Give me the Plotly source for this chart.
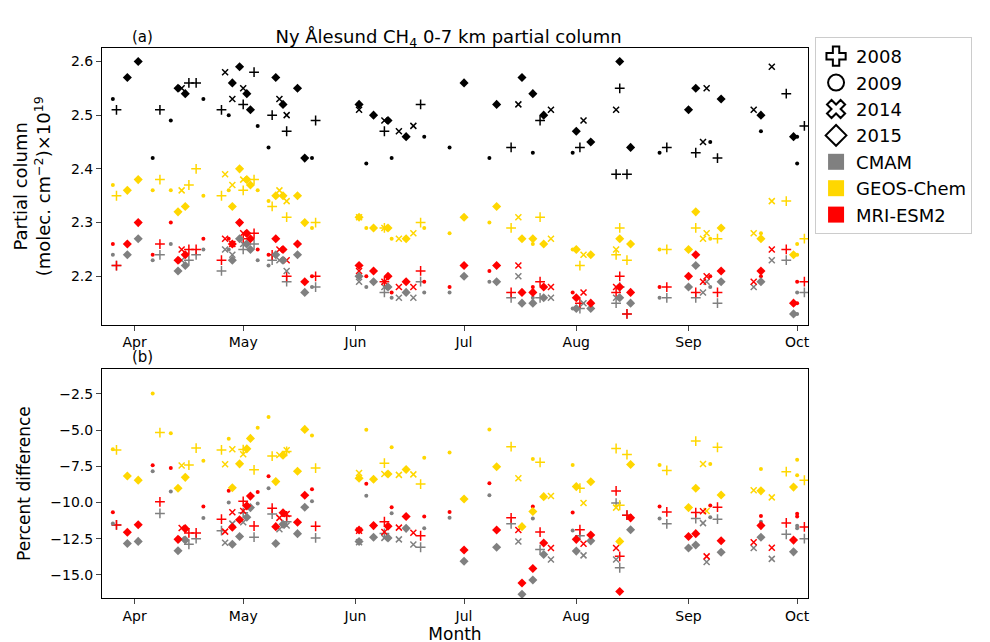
import plotly.graph_objects as go

# observation dates (year 2000 used only as a dummy year for month axis)
d2008 = ["2000-03-27", "2000-04-08", "2000-04-16", "2000-04-18", "2000-04-25", "2000-05-01", "2000-05-04",
         "2000-05-09", "2000-05-13", "2000-05-21", "2000-06-09", "2000-06-19", "2000-07-14", "2000-07-22",
         "2000-08-02", "2000-08-12", "2000-08-13", "2000-08-15", "2000-08-26", "2000-09-03", "2000-09-09",
         "2000-09-28", "2000-10-03"]
obs2008 = [2.51, 2.51, 2.56, 2.56, 2.51, 2.52, 2.58, 2.50, 2.47, 2.49, 2.47, 2.52, 2.44, 2.49,
           2.44, 2.39, 2.55, 2.39, 2.44, 2.43, 2.42, 2.54, 2.48]
geos2008 = [2.35, 2.38, 2.37, 2.40, 2.35, 2.36, 2.38, 2.33, 2.31, 2.30, 2.29, 2.30, 2.29, 2.31,
            2.22, 2.24, 2.29, 2.23, 2.25, 2.29, 2.27, 2.34, 2.27]
mri2008 = [2.22, 2.26, 2.25, 2.25, 2.23, 2.27, 2.28, 2.24, 2.20, 2.20, 2.19, 2.21, 2.17, 2.19,
           2.15, 2.17, 2.20, 2.13, 2.18, 2.17, 2.17, 2.25, 2.19]
cmam2008 = [2.22, 2.24, 2.23, 2.24, 2.21, 2.25, 2.26, 2.23, 2.19, 2.18, 2.17, 2.19, 2.16, 2.16,
            2.14, 2.15, 2.18, 2.13, 2.16, 2.16, 2.15, 2.23, 2.17]

d2009 = ["2000-03-26", "2000-04-06", "2000-04-11", "2000-04-20", "2000-04-27", "2000-05-05", "2000-05-08",
         "2000-05-20", "2000-06-04", "2000-06-11", "2000-06-20", "2000-06-27", "2000-07-08", "2000-07-20",
         "2000-07-31", "2000-08-24", "2000-09-07", "2000-09-21", "2000-10-01", "2000-10-01"]
obs2009 = [2.53, 2.42, 2.49, 2.53, 2.50, 2.48, 2.44, 2.42, 2.41, 2.42, 2.46, 2.44, 2.42, 2.43,
           2.43, 2.43, 2.45, 2.47, 2.41, 2.46]
geos2009 = [2.37, 2.36, 2.36, 2.35, 2.36, 2.36, 2.34, 2.29, 2.29, 2.27, 2.29, 2.28, 2.30, 2.26,
            2.25, 2.25, 2.27, 2.28, 2.24, 2.26]
mri2009 = [2.26, 2.24, 2.30, 2.27, 2.27, 2.25, 2.24, 2.20, 2.20, 2.17, 2.19, 2.18, 2.21, 2.18,
           2.17, 2.18, 2.20, 2.20, 2.15, 2.19]
cmam2009 = [2.24, 2.23, 2.26, 2.25, 2.25, 2.23, 2.22, 2.18, 2.18, 2.16, 2.17, 2.17, 2.19, 2.16,
            2.14, 2.16, 2.18, 2.19, 2.13, 2.17]

d2014 = ["2000-04-14", "2000-04-26", "2000-04-28", "2000-05-01", "2000-05-11", "2000-05-13", "2000-06-02",
         "2000-06-09", "2000-06-13", "2000-06-17", "2000-07-16", "2000-07-25", "2000-08-03", "2000-08-12",
         "2000-09-05", "2000-09-06", "2000-09-19", "2000-09-24"]
obs2014 = [2.55, 2.58, 2.53, 2.55, 2.53, 2.50, 2.51, 2.49, 2.47, 2.48, 2.52, 2.51, 2.49, 2.51,
           2.45, 2.55, 2.51, 2.59]
geos2014 = [2.36, 2.39, 2.37, 2.38, 2.36, 2.34, 2.31, 2.29, 2.27, 2.28, 2.31, 2.27, 2.24, 2.25,
            2.27, 2.28, 2.28, 2.34]
mri2014 = [2.25, 2.27, 2.26, 2.28, 2.25, 2.23, 2.21, 2.19, 2.18, 2.18, 2.22, 2.18, 2.17, 2.18,
           2.19, 2.20, 2.19, 2.25]
cmam2014 = [2.23, 2.25, 2.24, 2.26, 2.23, 2.21, 2.19, 2.18, 2.16, 2.16, 2.20, 2.16, 2.15, 2.16,
            2.17, 2.19, 2.18, 2.23]

d2015 = ["2000-03-30", "2000-04-02", "2000-04-13", "2000-04-15", "2000-04-28", "2000-04-30", "2000-05-02",
         "2000-05-03", "2000-05-10", "2000-05-12", "2000-05-16", "2000-05-18", "2000-06-02", "2000-06-06",
         "2000-06-10", "2000-06-15", "2000-07-01", "2000-07-10", "2000-07-17", "2000-07-20", "2000-07-23",
         "2000-08-01", "2000-08-05", "2000-08-13", "2000-08-16", "2000-09-01", "2000-09-03", "2000-09-10",
         "2000-09-21", "2000-09-30"]
obs2015 = [2.57, 2.60, 2.55, 2.54, 2.56, 2.59, 2.54, 2.51, 2.57, 2.52, 2.55, 2.42, 2.52, 2.50,
           2.49, 2.46, 2.56, 2.52, 2.57, 2.54, 2.50, 2.47, 2.45, 2.60, 2.44, 2.51, 2.55, 2.53,
           2.50, 2.46]
geos2015 = [2.36, 2.38, 2.32, 2.33, 2.33, 2.40, 2.38, 2.37, 2.35, 2.35, 2.35, 2.30, 2.31, 2.29,
            2.29, 2.27, 2.31, 2.33, 2.27, 2.27, 2.26, 2.25, 2.24, 2.27, 2.26, 2.25, 2.32, 2.29,
            2.27, 2.24]
mri2015 = [2.26, 2.30, 2.23, 2.24, 2.26, 2.30, 2.28, 2.27, 2.27, 2.25, 2.26, 2.19, 2.22, 2.21,
           2.20, 2.19, 2.22, 2.22, 2.17, 2.17, 2.18, 2.16, 2.15, 2.18, 2.17, 2.20, 2.24, 2.21,
           2.21, 2.15]
cmam2015 = [2.24, 2.27, 2.21, 2.22, 2.23, 2.27, 2.26, 2.25, 2.24, 2.23, 2.24, 2.17, 2.20, 2.19,
            2.18, 2.17, 2.20, 2.19, 2.15, 2.15, 2.16, 2.14, 2.14, 2.16, 2.15, 2.18, 2.22, 2.19,
            2.19, 2.13]

years = [
    ("2008", d2008, obs2008, cmam2008, geos2008, mri2008, "cross-thin", "cross-open", 7),
    ("2009", d2009, obs2009, cmam2009, geos2009, mri2009, "circle", "circle-open", 4),
    ("2014", d2014, obs2014, cmam2014, geos2014, mri2014, "x-thin", "x-open", 6),
    ("2015", d2015, obs2015, cmam2015, geos2015, mri2015, "diamond", "diamond-open", 7),
]
models = [("CMAM", "gray"), ("GEOS-Chem", "gold"), ("MRI-ESM2", "red")]

fig = go.Figure()
for name, d, obs, cmam, geos, mri, sym, lsym, sz in years:
    for (mname, col), vals in zip(models, [cmam, geos, mri]):
        m = dict(symbol=sym, size=sz, color=col,
                 line=dict(color=col, width=1.5) if "thin" in sym else dict(width=0))
        fig.add_trace(go.Scatter(x=d, y=vals, mode="markers", marker=m, showlegend=False, xaxis="x", yaxis="y"))
        pct = [100 * (v - o) / o for v, o in zip(vals, obs)]
        fig.add_trace(go.Scatter(x=d, y=pct, mode="markers", marker=m, showlegend=False, xaxis="x2", yaxis="y2"))
    fig.add_trace(go.Scatter(x=d, y=obs, mode="markers", showlegend=False,
                             marker=dict(symbol=sym, size=sz, color="black",
                                         line=dict(color="black", width=1.5) if "thin" in sym else dict(width=0))))
    # legend entries
    fig.add_trace(go.Scatter(x=[None], y=[None], mode="markers", name=name,
                             marker=dict(symbol=lsym, size=18, color="black", line=dict(color="black", width=2))))
for mname, col in models:
    fig.add_trace(go.Scatter(x=[None], y=[None], mode="markers", name=mname,
                             marker=dict(symbol="square", size=20, color=col)))

xr = ["2000-03-23", "2000-10-04"]
tickv = ["2000-04-01", "2000-05-01", "2000-06-01", "2000-07-01", "2000-08-01", "2000-09-01", "2000-10-01"]
tickt = ["Apr", "May", "Jun", "Jul", "Aug", "Sep", "Oct"]
ax = dict(type="date", range=xr, tickvals=tickv, ticktext=tickt, showgrid=False, showline=True, mirror=True,
          linecolor="black", ticks="outside", tickfont=dict(size=14, color="black"))
fig.update_layout(
    width=990, height=642, plot_bgcolor="white", paper_bgcolor="white",
    margin=dict(l=90, r=190, t=40, b=37),
    font=dict(family="DejaVu Sans", color="black"),
    title=dict(text="Ny Ålesund CH<sub>4</sub> 0-7 km partial column", x=0.445, y=0.965, xanchor="center",
               font=dict(size=18)),
    xaxis=dict(ax, domain=[0, 1], anchor="y"),
    yaxis=dict(domain=[0.497, 1], range=[2.11, 2.625], tickvals=[2.2, 2.3, 2.4, 2.5, 2.6], showgrid=False,
               showline=True, mirror=True, linecolor="black", ticks="outside", zeroline=False,
               tickfont=dict(size=14), title=dict(text="Partial column<br>(molec. cm<sup>−2</sup>)×10<sup>19</sup>",
                                                   font=dict(size=18))),
    xaxis2=dict(ax, domain=[0, 1], anchor="y2", title=dict(text="Month", font=dict(size=17), standoff=2)),
    yaxis2=dict(domain=[0, 0.416], range=[-16.6, -0.8], tickvals=[-15, -12.5, -10, -7.5, -5, -2.5],
                ticktext=["−15.0", "−12.5", "−10.0", "−7.5", "−5.0", "−2.5"], showgrid=False, zeroline=False,
                showline=True, mirror=True, linecolor="black", ticks="outside", tickfont=dict(size=14),
                title=dict(text="Percent difference", font=dict(size=17))),
    legend=dict(x=1.01, y=1.02, xanchor="left", yanchor="top", font=dict(size=18), bordercolor="#cccccc",
                borderwidth=1, tracegroupgap=0, itemsizing="trace"),
    annotations=[dict(text="(a)", x=0.04, y=1.04, xref="paper", yref="paper", showarrow=False, font=dict(size=15)),
                 dict(text="(b)", x=0.04, y=0.438, xref="paper", yref="paper", showarrow=False, font=dict(size=15))],
)
fig.write_html("out.html")
